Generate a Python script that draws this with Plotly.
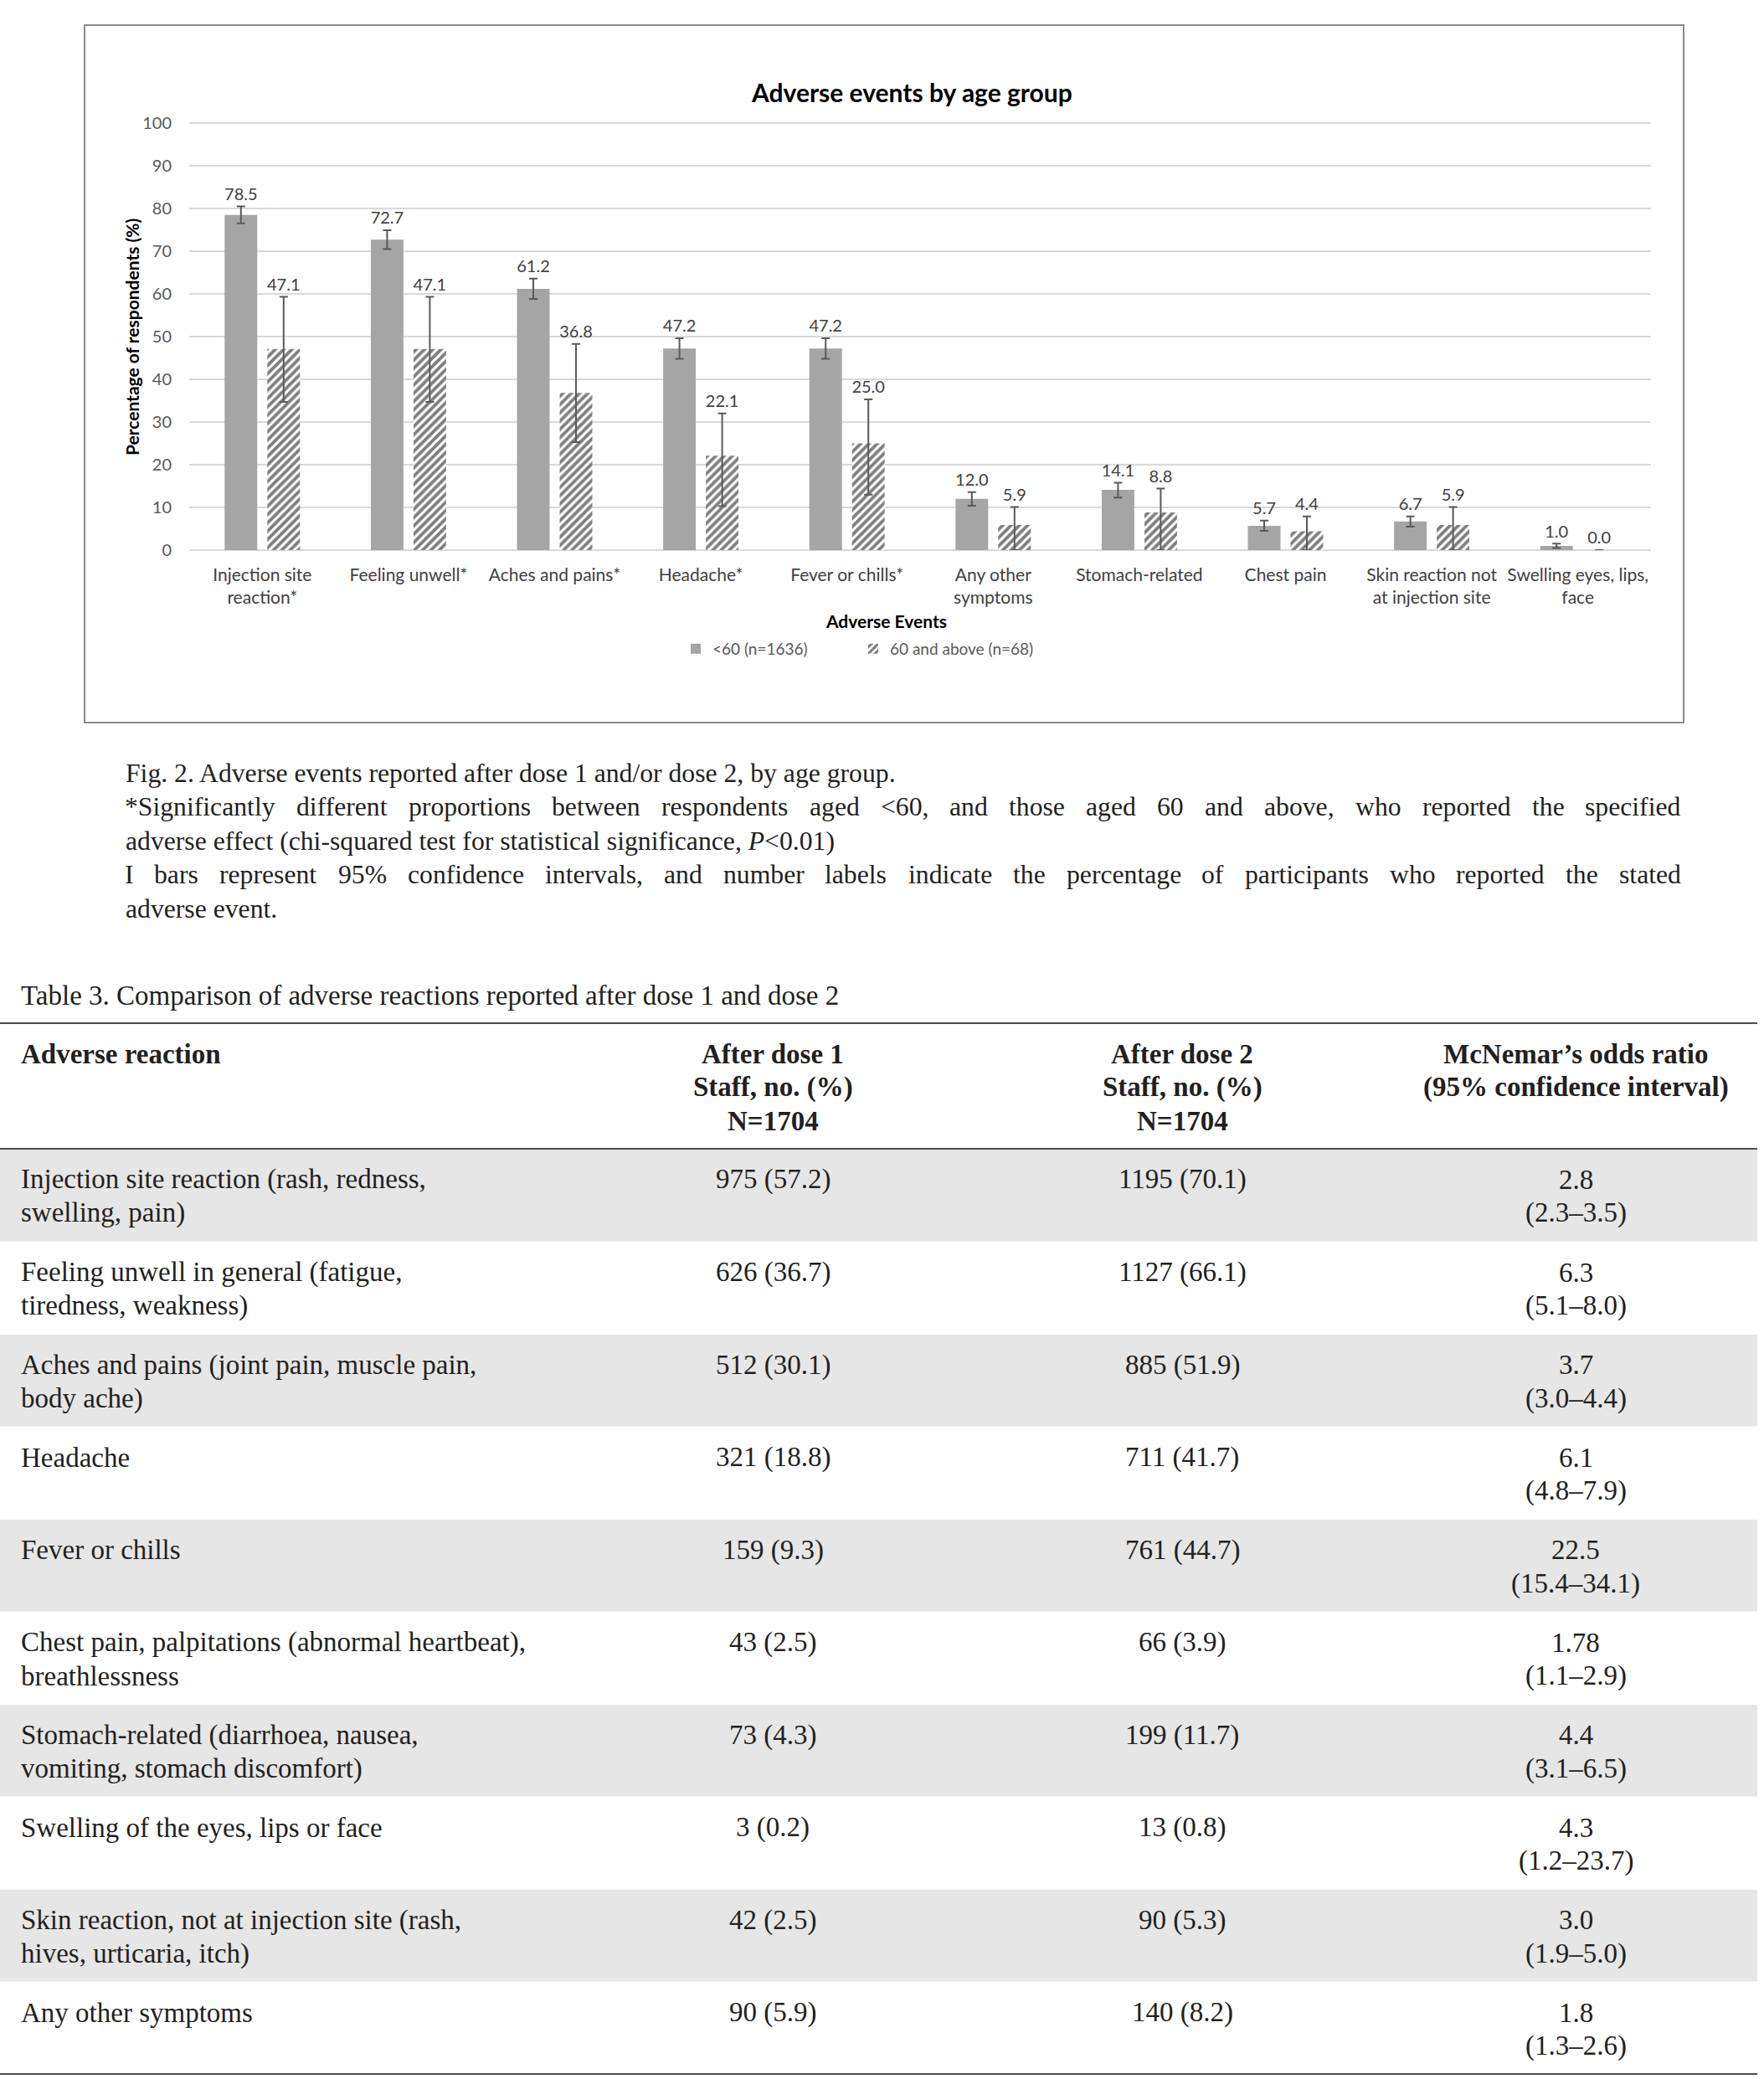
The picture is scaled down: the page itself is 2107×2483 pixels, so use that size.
import plotly.graph_objects as go

# ---------------- data ----------------
categories = ["Injection site<br>reaction*", "Feeling unwell*", "Aches and pains*", "Headache*",
              "Fever or chills*", "Any other<br>symptoms", "Stomach-related", "Chest pain",
              "Skin reaction not<br>at injection site", "Swelling eyes, lips,<br>face"]
under60 = [78.5, 72.7, 61.2, 47.2, 47.2, 12.0, 14.1, 5.7, 6.7, 1.0]
under60_ci_plus = [2.0, 2.2, 2.4, 2.4, 2.4, 1.6, 1.7, 1.2, 1.2, 0.5]
under60_ci_minus = [2.0, 2.2, 2.4, 2.4, 2.4, 1.6, 1.8, 1.2, 1.2, 0.5]
over60 = [47.1, 47.1, 36.8, 22.1, 25.0, 5.9, 8.8, 4.4, 5.9, 0.0]
over60_ci_plus = [12.2, 12.2, 11.5, 9.9, 10.3, 4.2, 5.6, 3.5, 4.2, 0.0]
over60_ci_minus = [12.4, 12.4, 11.5, 11.8, 12.0, 5.9, 8.8, 4.4, 5.9, 0.0]
series_names = ["&lt;60 (n=1636)", "60 and above (n=68)"]
y_ticks = [0, 10, 20, 30, 40, 50, 60, 70, 80, 90, 100]

chart_title = "Adverse events by age group"
x_title = "Adverse Events"
y_title = "Percentage of respondents (%)"

caption_line1 = "Fig. 2. Adverse events reported after dose 1 and/or dose 2, by age group."
caption_just1 = "*Significantly different proportions between respondents aged <60, and those aged 60 and above, who reported the specified"
caption_line3 = "adverse effect (chi-squared test for statistical significance, <i>P</i>&lt;0.01)"
caption_just2 = "I bars represent 95% confidence intervals, and number labels indicate the percentage of participants who reported the stated"
caption_line5 = "adverse event."

table_title = "Table 3. Comparison of adverse reactions reported after dose 1 and dose 2"
header_col1 = ["Adverse reaction"]
header_col2 = ["After dose 1", "Staff, no. (%)", "N=1704"]
header_col3 = ["After dose 2", "Staff, no. (%)", "N=1704"]
header_col4 = ["McNemar’s odds ratio", "(95% confidence interval)"]
reactions = [
    ["Injection site reaction (rash, redness,", "swelling, pain)"],
    ["Feeling unwell in general (fatigue,", "tiredness, weakness)"],
    ["Aches and pains (joint pain, muscle pain,", "body ache)"],
    ["Headache"],
    ["Fever or chills"],
    ["Chest pain, palpitations (abnormal heartbeat),", "breathlessness"],
    ["Stomach-related (diarrhoea, nausea,", "vomiting, stomach discomfort)"],
    ["Swelling of the eyes, lips or face"],
    ["Skin reaction, not at injection site (rash,", "hives, urticaria, itch)"],
    ["Any other symptoms"],
]
dose1_n = [975, 626, 512, 321, 159, 43, 73, 3, 42, 90]
dose1_pct = [57.2, 36.7, 30.1, 18.8, 9.3, 2.5, 4.3, 0.2, 2.5, 5.9]
dose2_n = [1195, 1127, 885, 711, 761, 66, 199, 13, 90, 140]
dose2_pct = [70.1, 66.1, 51.9, 41.7, 44.7, 3.9, 11.7, 0.8, 5.3, 8.2]
odds_ratio = [2.8, 6.3, 3.7, 6.1, 22.5, 1.78, 4.4, 4.3, 3.0, 1.8]
ci_low = [2.3, 5.1, 3.0, 4.8, 15.4, 1.1, 3.1, 1.2, 1.9, 1.3]
ci_high = [3.5, 8.0, 4.4, 7.9, 34.1, 2.9, 6.5, 23.7, 5.0, 2.6]

# ---------------- layout constants ----------------
W, H = 2107, 2483
PLOT_L, PLOT_R, PLOT_T, PLOT_B = 226, 1972, 147, 657   # pixel box of y = 0..100
YMAX = 100.6
SANS = "Lato"
SERIF = "Liberation Serif"
TXT = "#231f20"
BARGAP, BARGROUPGAP = 0.416, 0.236


def fx(p):
    return p / W


def fy(p):
    return 1 - p / H


plot_top_px = PLOT_B - (PLOT_B - PLOT_T) * YMAX / 100.0

fig = go.Figure()
idx = list(range(len(categories)))
offset = (1 - BARGAP) / 4

fig.add_trace(go.Bar(
    x=idx, y=under60, name=series_names[0], legend="legend",
    marker=dict(color="#A5A5A5", line=dict(width=0)),
    error_y=dict(type="data", symmetric=False, array=under60_ci_plus, arrayminus=under60_ci_minus,
                 color="#595959", thickness=2, width=5),
    hoverinfo="skip"))
fig.add_trace(go.Bar(
    x=idx, y=over60, name=series_names[1], legend="legend2",
    marker=dict(color="white", line=dict(width=0),
                pattern=dict(shape="/", fgcolor="#000000", bgcolor="white", size=7, solidity=0.55)),
    error_y=dict(type="data", symmetric=False, array=over60_ci_plus, arrayminus=over60_ci_minus,
                 color="#595959", thickness=2, width=5),
    hoverinfo="skip"))

LABEL_PAD = 0.5
for xs, vals, plus in ((
        [i - offset for i in idx], under60, under60_ci_plus),
        ([i + offset for i in idx], over60, over60_ci_plus)):
    fig.add_trace(go.Scatter(
        x=xs, y=[v + e + LABEL_PAD for v, e in zip(vals, plus)],
        mode="text", text=[f"{v:.1f}" for v in vals], textposition="top center",
        textfont=dict(family=SANS, size=20, color="#404040"), showlegend=False, hoverinfo="skip",
        cliponaxis=False))

shapes = []
annotations = []

# chart border
shapes.append(dict(type="rect", xref="paper", yref="paper", x0=fx(101), x1=fx(2011), y0=fy(863), y1=fy(30),
                   line=dict(color="#898989", width=2), fillcolor="rgba(0,0,0,0)", layer="below"))

annotations.append(dict(x=fx(1089), y=fy(110), xref="paper", yref="paper", text=f"<b>{chart_title}</b>",
                        showarrow=False, xanchor="center", yanchor="middle",
                        font=dict(family=SANS, size=30, color="#000000")))
annotations.append(dict(x=fx(1058), y=fy(741), xref="paper", yref="paper", text=f"<b>{x_title}</b>",
                        showarrow=False, xanchor="center", yanchor="middle",
                        font=dict(family=SANS, size=21, color="#000000")))
annotations.append(dict(x=fx(157), y=fy(403), xref="paper", yref="paper", text=f"<b>{y_title}</b>",
                        showarrow=False, xanchor="center", yanchor="middle", textangle=-90,
                        font=dict(family=SANS, size=21, color="#000000")))

# ---------------- caption ----------------
TIMES_W = {' ': 250, '%': 833, '(': 333, ')': 333, '*': 500, ',': 250, '-': 333, '.': 250, '/': 278,
           ':': 278, ';': 278, '<': 564, '=': 564, '>': 564,
           'A': 722, 'B': 667, 'C': 667, 'D': 722, 'E': 611, 'F': 556, 'G': 722, 'H': 722, 'I': 333,
           'J': 389, 'K': 722, 'L': 611, 'M': 889, 'N': 722, 'O': 722, 'P': 556, 'Q': 722, 'R': 667,
           'S': 556, 'T': 611, 'U': 722, 'V': 722, 'W': 944, 'X': 722, 'Y': 722, 'Z': 611,
           'a': 444, 'b': 500, 'c': 444, 'd': 500, 'e': 444, 'f': 333, 'g': 500, 'h': 500, 'i': 278,
           'j': 278, 'k': 500, 'l': 278, 'm': 778, 'n': 500, 'o': 500, 'p': 500, 'q': 500, 'r': 333,
           's': 389, 't': 278, 'u': 500, 'v': 500, 'w': 722, 'x': 500, 'y': 500, 'z': 444}


def tw(s, size):
    return sum(TIMES_W.get(c, 500) for c in s) / 1000.0 * size


CAP_SIZE = 31.7
TAB_SIZE = 33
CAP_L, CAP_R = 149, 2008


def left_line(text, y, x=CAP_L, size=CAP_SIZE, bold=False):
    annotations.append(dict(x=fx(x), y=fy(y), xref="paper", yref="paper",
                            text=f"<b>{text}</b>" if bold else text, showarrow=False,
                            xanchor="left", yanchor="middle", borderpad=0,
                            font=dict(family=SERIF, size=size, color=TXT)))


def center_line(text, y, x, size=TAB_SIZE, bold=False):
    annotations.append(dict(x=fx(x), y=fy(y), xref="paper", yref="paper",
                            text=f"<b>{text}</b>" if bold else text, showarrow=False,
                            xanchor="center", yanchor="middle", borderpad=0,
                            font=dict(family=SERIF, size=size, color=TXT)))


def justified_line(text, y, size=CAP_SIZE):
    words = text.split(" ")
    widths = [tw(w, size) for w in words]
    gap = (CAP_R - CAP_L - sum(widths)) / (len(words) - 1)
    x = CAP_L
    for w, wd in zip(words, widths):
        annotations.append(dict(x=fx(x + wd / 2), y=fy(y), xref="paper", yref="paper",
                                text=w.replace("<", "&lt;"), showarrow=False,
                                xanchor="center", yanchor="middle", borderpad=0,
                                font=dict(family=SERIF, size=size, color=TXT)))
        x += wd + gap


left_line(caption_line1, 923)
justified_line(caption_just1, 963)
left_line(caption_line3, 1004)
justified_line(caption_just2, 1044)
left_line(caption_line5, 1085)

# ---------------- table ----------------
TAB_L, TAB_R = 0, 2099
COL1_X, COL2_X, COL3_X, COL4_X = 24, 923, 1412, 1882
RULE_TOP, RULE_HEAD, ROW_H = 1222, 1372, 110.5
HEAD_Y0, LINE_H = 1259, 40

left_line(table_title, 1189, x=COL1_X, size=TAB_SIZE)
shapes.append(dict(type="line", xref="paper", yref="paper", x0=fx(TAB_L), x1=fx(TAB_R),
                   y0=fy(RULE_TOP), y1=fy(RULE_TOP), line=dict(color="#4d4d4d", width=2)))
for k, t in enumerate(header_col1):
    left_line(t, HEAD_Y0 + k * LINE_H, x=COL1_X, size=TAB_SIZE, bold=True)
for col_x, col in ((COL2_X, header_col2), (COL3_X, header_col3), (COL4_X, header_col4)):
    for k, t in enumerate(col):
        center_line(t, HEAD_Y0 + k * LINE_H, col_x, bold=True)
shapes.append(dict(type="line", xref="paper", yref="paper", x0=fx(TAB_L), x1=fx(TAB_R),
                   y0=fy(RULE_HEAD), y1=fy(RULE_HEAD), line=dict(color="#4d4d4d", width=2)))

for r in range(len(reactions)):
    top = RULE_HEAD + r * ROW_H
    if r % 2 == 0:
        shapes.append(dict(type="rect", xref="paper", yref="paper", x0=fx(TAB_L), x1=fx(TAB_R),
                           y0=fy(top + ROW_H), y1=fy(top + 1), line=dict(width=0),
                           fillcolor="#E6E6E6", layer="below"))
    y1 = top + 37
    y2 = top + 77
    for k, t in enumerate(reactions[r]):
        left_line(t, y1 + k * LINE_H, x=COL1_X, size=TAB_SIZE)
    center_line(f"{dose1_n[r]} ({dose1_pct[r]})", y1, COL2_X)
    center_line(f"{dose2_n[r]} ({dose2_pct[r]})", y1, COL3_X)
    center_line(f"{odds_ratio[r]}", y1, COL4_X)
    center_line(f"({ci_low[r]}–{ci_high[r]})", y2, COL4_X)

bottom = RULE_HEAD + len(reactions) * ROW_H
shapes.append(dict(type="line", xref="paper", yref="paper", x0=fx(TAB_L), x1=fx(TAB_R),
                   y0=fy(bottom), y1=fy(bottom), line=dict(color="#4d4d4d", width=2)))

fig.update_layout(
    width=W, height=H, autosize=False,
    margin=dict(l=0, r=0, t=0, b=0, pad=0, autoexpand=False),
    paper_bgcolor="white", plot_bgcolor="white",
    barmode="group", bargap=BARGAP, bargroupgap=BARGROUPGAP,
    xaxis=dict(domain=[fx(PLOT_L), fx(PLOT_R)], range=[-0.5, len(categories) - 0.5],
               tickvals=idx, ticktext=categories, showgrid=False, zeroline=False, showline=False,
               automargin=False,
               ticks="", ticklabelstandoff=15, tickfont=dict(family=SANS, size=21, color="#404040"),
               fixedrange=True),
    yaxis=dict(domain=[fy(PLOT_B), fy(plot_top_px)], range=[0, YMAX], tickvals=y_ticks,
               showgrid=True, gridcolor="#D9D9D9", gridwidth=2, zeroline=True, zerolinecolor="#D9D9D9",
               zerolinewidth=2, showline=False, ticks="", ticklabelstandoff=20, automargin=False,
               tickfont=dict(family=SANS, size=20, color="#595959"), fixedrange=True),
    legend=dict(x=fx(811), y=fy(775), xanchor="left", yanchor="middle", orientation="h",
                bgcolor="rgba(0,0,0,0)", font=dict(family=SANS, size=19, color="#595959"),
                itemwidth=30),
    legend2=dict(x=fx(1023), y=fy(775), xanchor="left", yanchor="middle", orientation="h",
                 bgcolor="rgba(0,0,0,0)", font=dict(family=SANS, size=19, color="#595959"),
                 itemwidth=30),
    shapes=shapes, annotations=annotations,
)

fig.write_html("out.html", config={"displayModeBar": False},
               post_script="document.documentElement.style.margin='0';document.body.style.margin='0';")
